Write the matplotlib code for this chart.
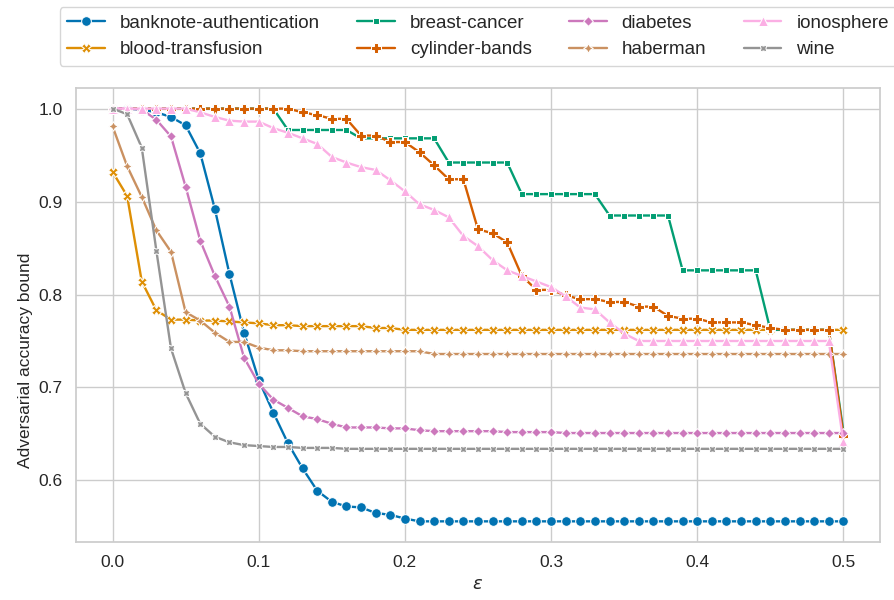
import numpy as np
import pandas as pd
import seaborn as sns
import matplotlib.pyplot as plt

# epsilon grid 0.00 .. 0.50
eps = [round(0.01 * i, 2) for i in range(51)]

banknote = ([1.0, 1.0, 0.999, 0.996, 0.991, 0.982, 0.952, 0.892, 0.822, 0.759,
             0.708, 0.673, 0.640, 0.613, 0.589, 0.577, 0.572, 0.571, 0.565, 0.563,
             0.559] + [0.556] * 30)
blood = ([0.932, 0.906, 0.814, 0.783, 0.773, 0.773, 0.772, 0.772, 0.771, 0.770,
          0.769, 0.767, 0.767, 0.766, 0.766, 0.766, 0.766, 0.766, 0.764, 0.764]
         + [0.762] * 31)
breast = ([1.0] * 12 + [0.977] * 5 + [0.968] * 6 + [0.942] * 5 + [0.908] * 6
          + [0.885] * 5 + [0.826] * 6 + [0.762] * 5 + [0.652])
cylinder = ([1.0] * 13
            + [0.996, 0.993, 0.989, 0.989, 0.971, 0.971, 0.964, 0.964, 0.953, 0.939,
               0.924, 0.924, 0.870, 0.866, 0.856, 0.820, 0.805, 0.805, 0.799, 0.795,
               0.795, 0.792, 0.792, 0.787, 0.787, 0.777, 0.774, 0.774, 0.770, 0.770,
               0.770, 0.767, 0.764, 0.762, 0.762, 0.762, 0.762, 0.648])
diabetes = ([1.0, 1.0, 0.999, 0.988, 0.970, 0.916, 0.858, 0.820, 0.787, 0.732,
             0.704, 0.687, 0.678, 0.669, 0.666, 0.661, 0.657, 0.657, 0.657, 0.656,
             0.656, 0.654] + [0.653] * 5 + [0.652] * 4 + [0.651] * 20)
haberman = ([0.981, 0.938, 0.905, 0.869, 0.846, 0.781, 0.772, 0.759, 0.749, 0.749,
             0.743, 0.740, 0.740] + [0.739] * 9 + [0.736] * 29)
ionosphere = ([1.0] * 6
              + [0.996, 0.991, 0.987, 0.986, 0.986, 0.979, 0.974, 0.968, 0.962, 0.948,
                 0.942, 0.937, 0.934, 0.923, 0.911, 0.897, 0.891, 0.883, 0.863, 0.852,
                 0.837, 0.826, 0.820, 0.814, 0.808, 0.798, 0.786, 0.784, 0.770, 0.758]
              + [0.750] * 14 + [0.641])
wine = ([1.0, 0.994, 0.958, 0.847, 0.742, 0.694, 0.661, 0.647, 0.641, 0.638,
         0.637, 0.636, 0.636, 0.635, 0.635, 0.635] + [0.634] * 35)

datasets = ["banknote-authentication", "blood-transfusion", "breast-cancer",
            "cylinder-bands", "diabetes", "haberman", "ionosphere", "wine"]
values = [banknote, blood, breast, cylinder, diabetes, haberman, ionosphere, wine]

rows = []
for name, vals in zip(datasets, values):
    for e, v in zip(eps, vals):
        rows.append({"eps": e, "bound": v, "dataset": name})
df = pd.DataFrame(rows)

sns.set_theme(style="whitegrid", palette="colorblind")
plt.rcParams["font.family"] = ["Liberation Sans", "DejaVu Sans"]

fig = plt.figure(figsize=(8.95, 6), dpi=100)
ax = fig.add_axes([0.0849, 0.0967, 0.8983, 0.7567])

sns.lineplot(data=df, x="eps", y="bound", hue="dataset", style="dataset",
             markers=True, dashes=False, hue_order=datasets, style_order=datasets,
             linewidth=1.7, markersize=7, ax=ax)

ax.set_xlabel(r"$\varepsilon$", fontsize=13)
ax.set_ylabel("Adversarial accuracy bound", fontsize=12.5)
ax.yaxis.set_label_coords(-0.054, 0.40)
ax.tick_params(labelsize=12.5)
ax.set_xticks([0.0, 0.1, 0.2, 0.3, 0.4, 0.5])
ax.set_yticks([0.6, 0.7, 0.8, 0.9, 1.0])

ax.legend(loc="lower center", bbox_to_anchor=(0.5, 1.028), ncol=4,
          fontsize=13.5, title=None)

fig.savefig("out.png", dpi=100)
